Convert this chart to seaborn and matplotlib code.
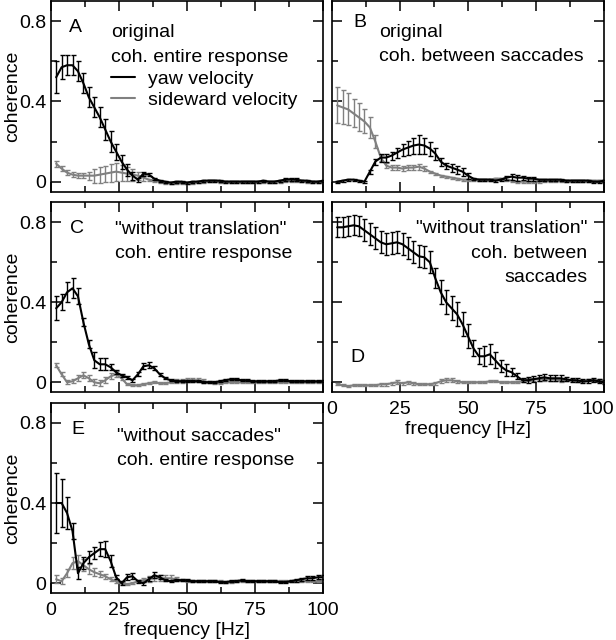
import pandas as pd
import seaborn as sns
import matplotlib.pyplot as plt
from matplotlib.ticker import MultipleLocator, FuncFormatter
from matplotlib.transforms import ScaledTranslation

# frequency bins (Hz)
freq = [2, 4, 6, 8, 10, 12, 14, 16, 18, 20, 22, 24, 26, 28, 30, 32, 34, 36, 38, 40,
        42, 44, 46, 48, 50, 52, 54, 56, 58, 60, 62, 64, 66, 68, 70, 72, 74, 76, 78, 80,
        82, 84, 86, 88, 90, 92, 94, 96, 98, 100]

# A: original, coherence of entire response
a_yaw = [0.52, 0.57, 0.58, 0.58, 0.55, 0.49, 0.42, 0.37, 0.32, 0.26,
         0.20, 0.15, 0.10, 0.06, 0.03, 0.01, 0.04, 0.035, 0.015, 0.005,
         0.0, -0.005, 0.0, 0.0, -0.005, 0.0, 0.0, 0.005, 0.005, 0.005,
         0.005, 0.0, 0.0, 0.0, 0.0, 0.0, 0.0, 0.0, 0.005, 0.0,
         0.0, 0.005, 0.01, 0.012, 0.01, 0.005, 0.005, 0.0, 0.0, 0.005]
a_yaw_err = [0.08, 0.06, 0.05, 0.05, 0.05, 0.05, 0.05, 0.05, 0.05, 0.05,
             0.05, 0.04, 0.035, 0.03, 0.02, 0.01, 0.01, 0.008, 0.005, 0.005,
             0.005, 0.005, 0.005, 0.005, 0.005, 0.005, 0.005, 0.005, 0.005, 0.005,
             0.005, 0.005, 0.005, 0.005, 0.005, 0.005, 0.005, 0.005, 0.005, 0.005,
             0.005, 0.005, 0.008, 0.008, 0.008, 0.005, 0.005, 0.005, 0.005, 0.005]
a_side = [0.09, 0.065, 0.045, 0.035, 0.03, 0.03, 0.03, 0.03, 0.035, 0.04,
          0.045, 0.05, 0.045, 0.04, 0.035, 0.03, 0.02, 0.01, 0.005, 0.0,
          -0.005, -0.005, -0.005, -0.005, -0.005, -0.005, 0.0, 0.0, 0.005, 0.005,
          0.0, 0.0, 0.0, 0.0, 0.0, 0.0, 0.0, 0.0, 0.0, 0.0,
          0.0, 0.0, 0.005, 0.005, 0.005, 0.005, 0.0, 0.0, 0.0, 0.0]
a_side_err = [0.015, 0.012, 0.012, 0.012, 0.012, 0.012, 0.02, 0.035, 0.04, 0.04,
              0.045, 0.045, 0.04, 0.035, 0.03, 0.02, 0.015, 0.005, 0.005, 0.005,
              0.005, 0.005, 0.005, 0.005, 0.005, 0.005, 0.005, 0.005, 0.005, 0.005,
              0.005, 0.005, 0.005, 0.005, 0.005, 0.005, 0.005, 0.005, 0.005, 0.005,
              0.005, 0.005, 0.005, 0.005, 0.005, 0.005, 0.005, 0.005, 0.005, 0.005]

# B: original, coherence between saccades
b_yaw = [0.0, 0.005, 0.01, 0.01, 0.005, 0.0, 0.05, 0.10, 0.12, 0.12,
         0.13, 0.145, 0.16, 0.17, 0.18, 0.185, 0.18, 0.165, 0.14, 0.10,
         0.08, 0.07, 0.06, 0.05, 0.03, 0.015, 0.01, 0.01, 0.01, 0.005,
         0.01, 0.02, 0.025, 0.02, 0.02, 0.015, 0.015, 0.01, 0.01, 0.01,
         0.01, 0.01, 0.005, 0.005, 0.005, 0.005, 0.005, 0.0, 0.0, 0.005]
b_yaw_err = [0.005, 0.005, 0.005, 0.005, 0.005, 0.005, 0.01, 0.015, 0.02, 0.02,
             0.02, 0.025, 0.03, 0.035, 0.04, 0.045, 0.04, 0.035, 0.03, 0.02,
             0.015, 0.02, 0.02, 0.02, 0.015, 0.005, 0.005, 0.005, 0.005, 0.005,
             0.005, 0.01, 0.015, 0.015, 0.01, 0.01, 0.01, 0.005, 0.005, 0.005,
             0.005, 0.005, 0.005, 0.005, 0.005, 0.005, 0.005, 0.005, 0.005, 0.005]
b_side = [0.38, 0.37, 0.36, 0.34, 0.32, 0.30, 0.27, 0.20, 0.12, 0.08,
          0.07, 0.07, 0.065, 0.07, 0.07, 0.075, 0.065, 0.05, 0.04, 0.03,
          0.025, 0.02, 0.015, 0.01, 0.01, 0.01, 0.01, 0.01, 0.01, 0.015,
          0.015, 0.01, 0.005, 0.0, 0.0, 0.0, 0.0, 0.0, 0.005, 0.005,
          0.005, 0.005, 0.005, 0.005, 0.005, 0.005, 0.005, 0.005, 0.005, 0.005]
b_side_err = [0.09, 0.085, 0.08, 0.07, 0.07, 0.06, 0.05, 0.03, 0.015, 0.012,
              0.012, 0.012, 0.012, 0.012, 0.012, 0.015, 0.012, 0.005, 0.005, 0.005,
              0.005, 0.005, 0.005, 0.005, 0.005, 0.005, 0.005, 0.005, 0.005, 0.005,
              0.005, 0.005, 0.005, 0.005, 0.005, 0.005, 0.005, 0.005, 0.005, 0.005,
              0.005, 0.005, 0.005, 0.005, 0.005, 0.005, 0.005, 0.005, 0.005, 0.005]

# C: "without translation", coherence of entire response
c_yaw = [0.37, 0.40, 0.45, 0.47, 0.43, 0.30, 0.19, 0.11, 0.09, 0.09,
         0.075, 0.05, 0.035, 0.025, 0.01, 0.04, 0.08, 0.085, 0.07, 0.04,
         0.02, 0.01, 0.005, 0.005, 0.005, 0.005, 0.005, 0.0, 0.0, 0.0,
         0.005, 0.01, 0.015, 0.015, 0.01, 0.01, 0.005, 0.005, 0.005, 0.005,
         0.005, 0.01, 0.01, 0.005, 0.005, 0.005, 0.005, 0.005, 0.005, 0.005]
c_yaw_err = [0.06, 0.04, 0.05, 0.05, 0.04, 0.02, 0.02, 0.04, 0.03, 0.03,
             0.015, 0.01, 0.008, 0.008, 0.008, 0.01, 0.015, 0.015, 0.01, 0.008,
             0.005, 0.005, 0.005, 0.005, 0.005, 0.005, 0.005, 0.005, 0.005, 0.005,
             0.005, 0.005, 0.005, 0.005, 0.005, 0.005, 0.005, 0.005, 0.005, 0.005,
             0.005, 0.005, 0.005, 0.005, 0.005, 0.005, 0.005, 0.005, 0.005, 0.005]
c_side = [0.085, 0.04, 0.0, 0.005, 0.02, 0.035, 0.02, 0.0, -0.005, 0.01,
          0.03, 0.04, 0.02, -0.01, -0.015, -0.015, -0.01, -0.005, 0.0, -0.005,
          -0.005, 0.0, 0.005, 0.005, 0.01, 0.01, 0.01, 0.005, 0.0, -0.005,
          -0.005, 0.0, 0.0, 0.0, 0.0, 0.0, 0.0, 0.0, 0.0, 0.0,
          0.0, 0.0, 0.0, 0.0, 0.0, 0.0, 0.0, 0.0, 0.0, 0.0]
c_side_err = [0.01, 0.01, 0.01, 0.01, 0.015, 0.015, 0.015, 0.015, 0.015, 0.015,
              0.015, 0.015, 0.01, 0.005, 0.005, 0.005, 0.005, 0.005, 0.005, 0.005,
              0.005, 0.005, 0.01, 0.01, 0.01, 0.01, 0.01, 0.01, 0.005, 0.005,
              0.005, 0.005, 0.005, 0.005, 0.005, 0.005, 0.005, 0.005, 0.005, 0.005,
              0.005, 0.005, 0.005, 0.005, 0.005, 0.005, 0.005, 0.005, 0.005, 0.005]

# D: "without translation", coherence between saccades
d_yaw = [0.775, 0.775, 0.78, 0.785, 0.78, 0.76, 0.74, 0.72, 0.70, 0.69,
         0.695, 0.70, 0.69, 0.67, 0.65, 0.63, 0.625, 0.60, 0.52, 0.45,
         0.40, 0.37, 0.34, 0.29, 0.23, 0.17, 0.13, 0.13, 0.14, 0.11,
         0.08, 0.06, 0.05, 0.03, 0.01, 0.01, 0.015, 0.02, 0.025, 0.02,
         0.02, 0.02, 0.015, 0.01, 0.01, 0.005, 0.005, 0.01, 0.005, 0.0]
d_yaw_err = [0.05, 0.05, 0.05, 0.05, 0.05, 0.055, 0.055, 0.055, 0.055, 0.055,
             0.055, 0.055, 0.055, 0.055, 0.055, 0.055, 0.055, 0.055, 0.05, 0.06,
             0.06, 0.06, 0.06, 0.06, 0.06, 0.04, 0.04, 0.05, 0.05, 0.04,
             0.03, 0.03, 0.02, 0.015, 0.01, 0.015, 0.015, 0.015, 0.015, 0.015,
             0.015, 0.015, 0.01, 0.01, 0.01, 0.01, 0.01, 0.01, 0.01, 0.01]
d_side = [-0.01, -0.015, -0.02, -0.015, -0.015, -0.015, -0.015, -0.015, -0.01, -0.01,
          -0.005, 0.0, -0.005, 0.0, -0.005, -0.01, -0.01, -0.01, -0.005, 0.005,
          0.01, 0.01, 0.005, 0.0, 0.0, 0.0, 0.0, 0.0, 0.005, 0.005,
          0.0, 0.0, 0.0, 0.0, 0.005, 0.015, 0.015, 0.015, 0.015, 0.015,
          0.015, 0.01, 0.01, 0.01, 0.005, 0.005, 0.01, 0.01, 0.01, 0.0]
d_side_err = [0.005, 0.005, 0.005, 0.005, 0.005, 0.005, 0.005, 0.005, 0.008, 0.008,
              0.008, 0.01, 0.008, 0.008, 0.008, 0.005, 0.005, 0.005, 0.008, 0.01,
              0.01, 0.01, 0.008, 0.005, 0.005, 0.005, 0.005, 0.005, 0.005, 0.005,
              0.005, 0.005, 0.005, 0.005, 0.005, 0.008, 0.008, 0.008, 0.008, 0.008,
              0.008, 0.008, 0.005, 0.005, 0.005, 0.005, 0.005, 0.005, 0.005, 0.005]

# E: "without saccades", coherence of entire response
e_yaw = [0.40, 0.40, 0.35, 0.26, 0.05, 0.10, 0.13, 0.15, 0.17, 0.17,
         0.11, 0.03, 0.0, 0.03, 0.035, 0.01, 0.0, 0.02, 0.04, 0.03,
         0.015, 0.01, 0.015, 0.015, 0.015, 0.01, 0.01, 0.01, 0.01, 0.01,
         0.005, 0.005, 0.01, 0.01, 0.015, 0.01, 0.01, 0.01, 0.01, 0.01,
         0.01, 0.005, 0.005, 0.01, 0.015, 0.02, 0.025, 0.025, 0.03, 0.03]
e_yaw_err = [0.15, 0.12, 0.08, 0.04, 0.03, 0.03, 0.03, 0.03, 0.035, 0.04,
             0.03, 0.01, 0.01, 0.015, 0.015, 0.008, 0.008, 0.01, 0.015, 0.01,
             0.005, 0.005, 0.005, 0.005, 0.005, 0.005, 0.005, 0.005, 0.005, 0.005,
             0.005, 0.005, 0.005, 0.005, 0.005, 0.005, 0.005, 0.005, 0.005, 0.005,
             0.005, 0.005, 0.005, 0.005, 0.008, 0.008, 0.01, 0.01, 0.01, 0.01]
e_side = [0.02, 0.01, 0.05, 0.10, 0.11, 0.09, 0.07, 0.055, 0.045, 0.035,
          0.02, 0.01, 0.0, -0.005, 0.0, 0.01, 0.015, 0.02, 0.025, 0.025,
          0.025, 0.025, 0.02, 0.015, 0.01, 0.01, 0.01, 0.01, 0.01, 0.01,
          0.01, 0.005, 0.005, 0.01, 0.01, 0.01, 0.01, 0.01, 0.01, 0.01,
          0.01, 0.01, 0.01, 0.01, 0.01, 0.01, 0.01, 0.01, 0.01, 0.01]
e_side_err = [0.02, 0.015, 0.02, 0.03, 0.03, 0.03, 0.025, 0.02, 0.015, 0.012,
              0.01, 0.01, 0.005, 0.005, 0.005, 0.005, 0.01, 0.015, 0.015, 0.015,
              0.015, 0.015, 0.01, 0.005, 0.005, 0.005, 0.005, 0.005, 0.005, 0.005,
              0.005, 0.005, 0.005, 0.005, 0.005, 0.005, 0.005, 0.005, 0.005, 0.005,
              0.005, 0.005, 0.005, 0.005, 0.005, 0.005, 0.005, 0.005, 0.005, 0.005]

sns.set_style('ticks')
plt.rcParams['font.family'] = ['Liberation Sans', 'DejaVu Sans']
plt.rcParams['font.size'] = 14
plt.rcParams['text.color'] = 'black'
plt.rcParams['axes.labelcolor'] = 'black'
plt.rcParams['xtick.color'] = 'black'
plt.rcParams['ytick.color'] = 'black'

W, H = 616, 640
fig = plt.figure(figsize=(W / 100, H / 100), dpi=100)


def add_panel(x0, x1, ytop, ybot):
    return fig.add_axes([x0 / W, 1 - ybot / H, (x1 - x0) / W, (ybot - ytop) / H])


def draw(ax, yaw, yaw_err, side, side_err):
    sns.lineplot(x=freq, y=side, color='0.5', lw=1.5, ax=ax, label='sideward velocity')
    ax.errorbar(freq, side, yerr=side_err, fmt='none', ecolor='0.5',
                elinewidth=1.0, capsize=1.8, capthick=1.0)
    sns.lineplot(x=freq, y=yaw, color='k', lw=1.5, ax=ax, label='yaw velocity')
    ax.errorbar(freq, yaw, yerr=yaw_err, fmt='none', ecolor='k',
                elinewidth=1.0, capsize=1.8, capthick=1.0)
    ax.set_xlim(0, 100)
    ax.set_ylim(-0.05, 0.9)
    ax.set_xticks([0, 25, 50, 75, 100])
    ax.xaxis.set_minor_locator(MultipleLocator(12.5))
    ax.yaxis.set_major_locator(MultipleLocator(0.4))
    ax.yaxis.set_minor_locator(MultipleLocator(0.2))
    ax.yaxis.set_major_formatter(FuncFormatter(lambda v, p: '0' if abs(v) < 1e-9 else f'{v:g}'))
    ax.xaxis.set_major_formatter(FuncFormatter(lambda v, p: f'{v:g}'))
    ax.tick_params(which='both', direction='in', top=True, right=True,
                   width=1.1, color='k', labelsize=14, labelcolor='k')
    ax.tick_params(axis='y', pad=3)
    ax.tick_params(axis='x', pad=6)
    ax.tick_params(which='major', length=7)
    ax.tick_params(which='minor', length=4)
    for s in ax.spines.values():
        s.set_linewidth(1.2)
        s.set_color('k')
    ax.set_xlabel('')
    ax.set_ylabel('')
    if ax.get_legend() is not None:
        ax.get_legend().remove()


def put_lines(ax, x, y0, lines, ha='left', step=0.128):
    for i, t in enumerate(lines):
        ax.text(x, y0 - i * step, t, transform=ax.transAxes, ha=ha, va='baseline', fontsize=14)


ax_a = add_panel(50.7, 323.3, 1, 191.7)
ax_b = add_panel(331.7, 604.3, 1, 191.7)
ax_c = add_panel(50.7, 323.3, 202.3, 392.3)
ax_d = add_panel(331.7, 604.3, 202.3, 392.3)
ax_e = add_panel(50.7, 323.3, 402.7, 593.3)

draw(ax_a, a_yaw, a_yaw_err, a_side, a_side_err)
draw(ax_b, b_yaw, b_yaw_err, b_side, b_side_err)
draw(ax_c, c_yaw, c_yaw_err, c_side, c_side_err)
draw(ax_d, d_yaw, d_yaw_err, d_side, d_side_err)
draw(ax_e, e_yaw, e_yaw_err, e_side, e_side_err)

for ax in (ax_a, ax_c, ax_e):
    ax.set_ylabel('coherence', fontsize=14)
    ax.yaxis.set_label_coords(-0.11, 0.5)
for ax in (ax_b, ax_d):
    ax.tick_params(labelleft=False)
for ax in (ax_a, ax_b, ax_c):
    ax.tick_params(labelbottom=False)
for ax in (ax_d, ax_e):
    ax.set_xlabel('frequency [Hz]', fontsize=14)
    ax.xaxis.set_label_coords(0.5, -0.15)

# keep the last "100" of panel D inside the figure
last = ax_d.get_xticklabels()[-1]
last.set_transform(last.get_transform() + ScaledTranslation(-5 / 72, 0, fig.dpi_scale_trans))

# legend in panel A
h = {l.get_label(): l for l in ax_a.lines}
ax_a.legend(handles=[h['yaw velocity'], h['sideward velocity']],
            loc='upper left', bbox_to_anchor=(0.221, 0.635), frameon=False,
            borderpad=0, borderaxespad=0, handlelength=1.24, handletextpad=0.69,
            labelspacing=0.14, fontsize=14)

ax_a.text(0.067, 0.836, 'A', transform=ax_a.transAxes, fontsize=14, va='baseline')
put_lines(ax_a, 0.221, 0.81, ['original', 'coh. entire response'])
ax_b.text(0.078, 0.864, 'B', transform=ax_b.transAxes, fontsize=14, va='baseline')
put_lines(ax_b, 0.174, 0.813, ['original', 'coh. between saccades'])
ax_c.text(0.071, 0.84, 'C', transform=ax_c.transAxes, fontsize=14, va='baseline')
put_lines(ax_c, 0.236, 0.833, ['"without translation"', 'coh. entire response'])
ax_d.text(0.067, 0.161, 'D', transform=ax_d.transAxes, fontsize=14, va='baseline')
put_lines(ax_d, 0.938, 0.837, ['"without translation"', 'coh. between', 'saccades'], ha='right')
ax_e.text(0.077, 0.834, 'E', transform=ax_e.transAxes, fontsize=14, va='baseline')
put_lines(ax_e, 0.242, 0.80, ['"without saccades"', 'coh. entire response'])

fig.savefig('out.png', dpi=100)
